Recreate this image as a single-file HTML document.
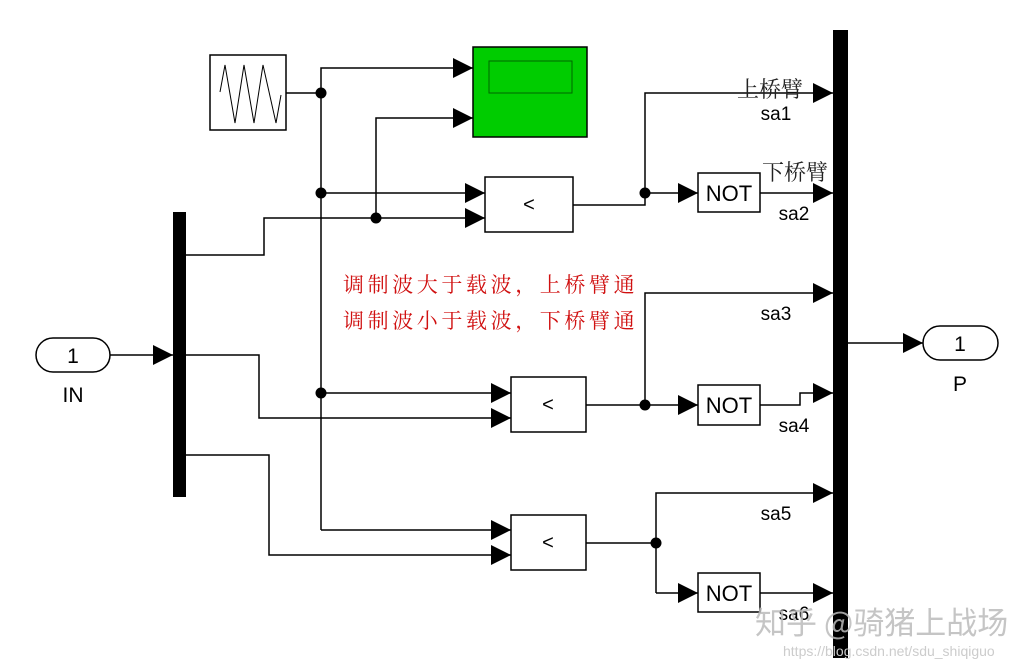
<!DOCTYPE html>
<html><head><meta charset="utf-8"><style>
body{margin:0;background:#fff}
svg{display:block}
.s{font-family:"Liberation Sans",sans-serif;fill:#000}
</style></head><body>
<svg width="1035" height="666" viewBox="0 0 1035 666" xmlns="http://www.w3.org/2000/svg">
<defs>
<marker id="a" markerWidth="20" markerHeight="20" refX="20" refY="10" orient="auto" markerUnits="userSpaceOnUse"><path d="M0,0 L20,10 L0,20 z" fill="#000"/></marker>
</defs>
<g stroke="#000" stroke-width="1.5" fill="none">
<line x1="110" y1="355" x2="173" y2="355" marker-end="url(#a)"/>
<polyline points="186,255 264,255 264,218 485,218" marker-end="url(#a)"/>
<polyline points="186,355 259,355 259,418 511,418" marker-end="url(#a)"/>
<polyline points="186,455 269,455 269,555 511,555" marker-end="url(#a)"/>
<line x1="286" y1="93" x2="321" y2="93"/>
<polyline points="321,530 321,68 473,68" marker-end="url(#a)"/>
<line x1="321" y1="530" x2="511" y2="530" marker-end="url(#a)"/>
<line x1="321" y1="193" x2="485" y2="193" marker-end="url(#a)"/>
<line x1="321" y1="393" x2="511" y2="393" marker-end="url(#a)"/>
<polyline points="376,218 376,118 473,118" marker-end="url(#a)"/>
<polyline points="573,205 645,205 645,193"/>
<polyline points="645,193 645,93 833,93" marker-end="url(#a)"/>
<line x1="645" y1="193" x2="698" y2="193" marker-end="url(#a)"/>
<line x1="760" y1="193" x2="833" y2="193" marker-end="url(#a)"/>
<line x1="586" y1="405" x2="698" y2="405" marker-end="url(#a)"/>
<polyline points="645,405 645,293 833,293" marker-end="url(#a)"/>
<polyline points="760,405 800,405 800,393 833,393" marker-end="url(#a)"/>
<line x1="586" y1="543" x2="656" y2="543"/>
<polyline points="656,593 656,493 833,493" marker-end="url(#a)"/>
<line x1="656" y1="593" x2="698" y2="593" marker-end="url(#a)"/>
<line x1="760" y1="593" x2="833" y2="593" marker-end="url(#a)"/>
<line x1="848" y1="343" x2="923" y2="343" marker-end="url(#a)"/>
</g>
<g fill="#000">
<circle cx="321" cy="93" r="5.5"/><circle cx="321" cy="193" r="5.5"/><circle cx="376" cy="218" r="5.5"/>
<circle cx="321" cy="393" r="5.5"/><circle cx="645" cy="193" r="5.5"/><circle cx="645" cy="405" r="5.5"/>
<circle cx="656" cy="543" r="5.5"/>
<rect x="173" y="212" width="13" height="285"/>
<rect x="833" y="30" width="15" height="628"/>
</g>
<g stroke="#000" stroke-width="1.5" fill="#fff">
<rect x="36" y="338" width="74" height="34" rx="17"/>
<rect x="923" y="326" width="75" height="34" rx="17"/>
<rect x="210" y="55" width="76" height="75"/>
<rect x="473" y="47" width="114" height="90" fill="#00cc00"/>
<rect x="489" y="61" width="83" height="32" fill="#00cc00" stroke="#006600" stroke-width="1"/>
<rect x="485" y="177" width="88" height="55"/>
<rect x="511" y="377" width="75" height="55"/>
<rect x="511" y="515" width="75" height="55"/>
<rect x="698" y="173" width="62" height="39"/>
<rect x="698" y="385" width="62" height="40"/>
<rect x="698" y="573" width="62" height="39"/>
</g>
<polyline points="220,92 225,65 235,123 244,65 254,123 263,65 276,123 281,95" fill="none" stroke="#000" stroke-width="1"/>
<g class="s" text-anchor="middle">
<text x="73" y="363" font-size="21">1</text>
<text x="960" y="351" font-size="21">1</text>
<text x="73" y="402" font-size="21">IN</text>
<text x="960" y="391" font-size="21">P</text>
<text x="529" y="211" font-size="20">&lt;</text>
<text x="548" y="411" font-size="20">&lt;</text>
<text x="548" y="549" font-size="20">&lt;</text>
<text x="729" y="201" font-size="22">NOT</text>
<text x="729" y="413" font-size="22">NOT</text>
<text x="729" y="601" font-size="22">NOT</text>
<text x="776" y="120" font-size="19">sa1</text>
<text x="794" y="220" font-size="19">sa2</text>
<text x="776" y="320" font-size="19">sa3</text>
<text x="794" y="432" font-size="19">sa4</text>
<text x="776" y="520" font-size="19">sa5</text>
<text x="794" y="620" font-size="19">sa6</text>
</g>
<g font-family="'Liberation Serif','Noto Serif CJK SC',serif" font-size="22" fill="#222">
<text x="737" y="97">上桥臂</text>
<text x="762" y="180">下桥臂</text>
</g>
<g font-family="'Liberation Serif','Noto Serif CJK SC',serif" font-size="21" fill="#d01010" letter-spacing="3.6">
<text x="343" y="292">调制波大于载波，上桥臂通</text>
<text x="343" y="328">调制波小于载波，下桥臂通</text>
</g>
<text x="755" y="634" font-family="'Noto Sans CJK SC',sans-serif" font-size="31" fill="#bbb" fill-opacity="0.85">知乎 @骑猪上战场</text>
<text x="783" y="656" font-family="'Liberation Sans',sans-serif" font-size="14" fill="#ccc">https://blog.csdn.net/sdu_shiqiguo</text>
</svg>
</body></html>
